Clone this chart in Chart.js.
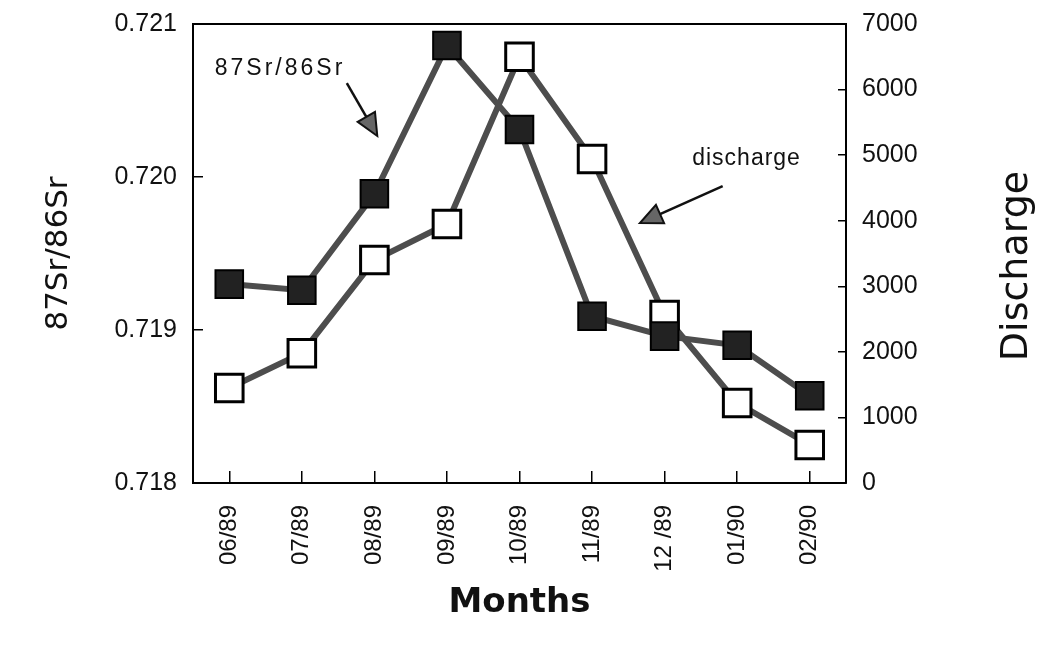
<!DOCTYPE html>
<html>
<head>
<meta charset="utf-8">
<script src="https://cdn.jsdelivr.net/npm/chart.js@4.4.1/dist/chart.umd.min.js"></script>
<style>
  html, body { margin: 0; padding: 0; background: #fff; }
  #wrap { width: 1040px; height: 645px; }
</style>
</head>
<body>
<div id="wrap"><canvas id="chart" width="1040" height="645"></canvas></div>
<script>
// months on the x axis
const months = ['06/89', '07/89', '08/89', '09/89', '10/89', '11/89', '12 /89', '01/90', '02/90'];
// 87Sr/86Sr ratio (left axis)
const srRatio = [0.71930, 0.71926, 0.71989, 0.72086, 0.72031, 0.71909, 0.71896, 0.71890, 0.71857];
// discharge (right axis)
const discharge = [1450, 1980, 3400, 3950, 6500, 4940, 2560, 1220, 580];

const srTicks = [0.718, 0.719, 0.720, 0.721];
const dischargeTicks = [0, 1000, 2000, 3000, 4000, 5000, 6000, 7000];

// text labels and arrows inside the plot, in data units (x = month index, y = ratio)
const notes = [
  { text: '87Sr/86Sr', x: -0.2, y: 0.72071, spacing: 3 },
  { text: 'discharge', x: 6.38, y: 0.72012, spacing: 1 }
];
const arrows = [
  { from: [1.62, 0.720614], to: [2.04, 0.720268] },
  { from: [6.80, 0.719941], to: [5.66, 0.719699] }
];

const tickFont = { family: 'Liberation Sans, Arial, sans-serif', size: 25 };

// top edge of the box, notes, arrows and the right axis title
const extras = {
  id: 'extras',
  afterDraw(chart) {
    const { ctx, chartArea: a, scales } = chart;
    const x = scales.x, y = scales.y;
    ctx.save();
    ctx.strokeStyle = '#000';
    ctx.lineWidth = 2;
    ctx.beginPath();
    ctx.moveTo(a.left, a.top);
    ctx.lineTo(a.right, a.top);
    ctx.stroke();

    ctx.fillStyle = '#111';
    ctx.font = '23px Liberation Sans, Arial, sans-serif';
    ctx.textBaseline = 'middle';
    ctx.textAlign = 'left';
    notes.forEach(n => {
      ctx.letterSpacing = n.spacing + 'px';
      ctx.fillText(n.text, x.getPixelForValue(n.x), y.getPixelForValue(n.y));
    });
    ctx.letterSpacing = '0px';

    arrows.forEach(ar => {
      const x1 = x.getPixelForValue(ar.from[0]), y1 = y.getPixelForValue(ar.from[1]);
      const x2 = x.getPixelForValue(ar.to[0]), y2 = y.getPixelForValue(ar.to[1]);
      const ang = Math.atan2(y2 - y1, x2 - x1);
      const len = 22, hw = 10;
      const bx = x2 - Math.cos(ang) * len, by = y2 - Math.sin(ang) * len;
      ctx.strokeStyle = '#111';
      ctx.lineWidth = 2.5;
      ctx.beginPath();
      ctx.moveTo(x1, y1);
      ctx.lineTo(bx, by);
      ctx.stroke();
      ctx.beginPath();
      ctx.moveTo(x2, y2);
      ctx.lineTo(bx + Math.sin(ang) * hw, by - Math.cos(ang) * hw);
      ctx.lineTo(bx - Math.sin(ang) * hw, by + Math.cos(ang) * hw);
      ctx.closePath();
      ctx.fillStyle = '#666';
      ctx.fill();
      ctx.lineWidth = 2;
      ctx.stroke();
    });

    // right title reads bottom to top like the left one
    ctx.translate(1017, 266);
    ctx.rotate(-Math.PI / 2);
    ctx.textAlign = 'center';
    ctx.fillStyle = '#111';
    ctx.font = '38px DejaVu Sans, sans-serif';
    ctx.fillText('Discharge', 0, 0);
    ctx.restore();
  }
};

// fixed axis sizes so the plot box lands where it is in the figure
function fixWidth(w) {
  return s => { s.width = w; s.paddingTop = 0; s.paddingBottom = 0; };
}

new Chart(document.getElementById('chart'), {
  type: 'line',
  data: {
    labels: months,
    datasets: [
      {
        label: '87Sr/86Sr',
        data: srRatio,
        yAxisID: 'y',
        borderColor: '#4d4d4d',
        borderWidth: 6,
        pointStyle: 'rect',
        pointRadius: 19.5,
        pointBackgroundColor: '#222',
        pointBorderColor: '#000',
        pointBorderWidth: 2,
        tension: 0,
        clip: false
      },
      {
        label: 'discharge',
        data: discharge,
        yAxisID: 'y1',
        borderColor: '#4d4d4d',
        borderWidth: 6,
        pointStyle: 'rect',
        pointRadius: 19.5,
        pointBackgroundColor: '#fff',
        pointBorderColor: '#000',
        pointBorderWidth: 3,
        tension: 0,
        clip: false
      }
    ]
  },
  options: {
    responsive: false,
    animation: false,
    layout: { padding: { top: 24, left: 0, right: 0, bottom: 0 } },
    plugins: {
      legend: { display: false },
      tooltip: { enabled: false }
    },
    scales: {
      x: {
        offset: true,
        grid: { offset: false, drawOnChartArea: false, tickLength: -12, color: '#000', lineWidth: 1.5 },
        border: { display: true, color: '#000', width: 2 },
        ticks: { color: '#111', font: { ...tickFont, size: 24 }, maxRotation: 90, minRotation: 90, autoSkip: false, padding: 34 },
        title: { display: true, text: 'Months', color: '#111', font: { family: 'DejaVu Sans, sans-serif', size: 34, weight: 'bold' }, padding: { top: 0, bottom: 21 } },
        afterFit(s) { s.height = 162; s.paddingLeft = 0; s.paddingRight = 0; }
      },
      y: {
        position: 'left',
        min: 0.718,
        max: 0.721,
        afterBuildTicks(s) { s.ticks = srTicks.map(v => ({ value: v })); },
        grid: { drawOnChartArea: false, tickLength: -10, color: '#000', lineWidth: 1.5 },
        border: { display: true, color: '#000', width: 2 },
        ticks: { color: '#111', font: tickFont, padding: 26, callback: v => v.toFixed(3) },
        title: { display: true, text: '87Sr/86Sr', color: '#111', font: { family: 'DejaVu Sans, sans-serif', size: 31 }, padding: { top: 40 } },
        afterFit: fixWidth(193)
      },
      y1: {
        position: 'right',
        min: 0,
        max: 7000,
        afterBuildTicks(s) { s.ticks = dischargeTicks.map(v => ({ value: v })); },
        grid: { drawOnChartArea: false, tickLength: -8, color: '#000', lineWidth: 1.5 },
        border: { display: true, color: '#000', width: 2 },
        ticks: { color: '#111', font: tickFont, padding: 24, callback: v => String(v) },
        afterFit: fixWidth(194)
      }
    }
  },
  plugins: [extras]
});
</script>
</body>
</html>
